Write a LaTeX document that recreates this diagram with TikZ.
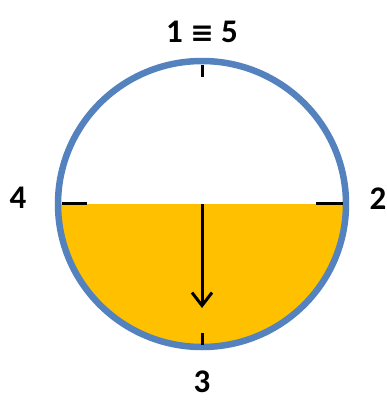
\documentclass[tikz,border=0pt]{standalone}
\usepackage{fontspec}
\setmainfont{Carlito}
\newfontfamily\symfont{DejaVu Sans}
\usetikzlibrary{arrows.meta}
\definecolor{ringblue}{RGB}{84,130,190}
\definecolor{fillyellow}{RGB}{255,192,0}
\tikzset{
  lbl/.style={font=\fontsize{33}{38}\selectfont\bfseries, inner sep=0pt, anchor=center},
  tick/.style={line width=3pt, black},
}
\begin{document}
\begin{tikzpicture}[x=1pt,y=-1pt]
\useasboundingbox[fill=white] (0,0) rectangle (386,402);
\coordinate (c) at (202,204);
% yellow lower half
\fill[fillyellow] (58,204) arc[start angle=180, end angle=360, x radius=144, y radius=-143] -- cycle;
% ring
\draw[ringblue, line width=6.5pt] (c) ellipse[x radius=144, y radius=143];
% ticks
\coordinate (tT1) at (202,65); \coordinate (tT2) at (202,77);
\coordinate (tL1) at (62,203); \coordinate (tL2) at (87,203);
\coordinate (tR1) at (316,203); \coordinate (tR2) at (343,203);
\coordinate (tB1) at (202,333); \coordinate (tB2) at (202,345);
\draw[tick] (tT1) -- (tT2);
\draw[tick] (tL1) -- (tL2);
\draw[tick] (tR1) -- (tR2);
\draw[tick] (tB1) -- (tB2);
% arrow
\coordinate (tip) at (202,308);
\draw[line width=3pt, -{Straight Barb[length=13pt,width=20pt]}] (c) -- (tip);
% labels
\node[lbl] (n15) at (202,32) {1 {\symfont\fontsize{28}{34}\selectfont ≡} 5};
\node[lbl] (n4) at (18,198) {4};
\node[lbl] (n2) at (378,199) {2};
\node[lbl] (n3) at (202,382) {3};
\end{tikzpicture}
\end{document}
